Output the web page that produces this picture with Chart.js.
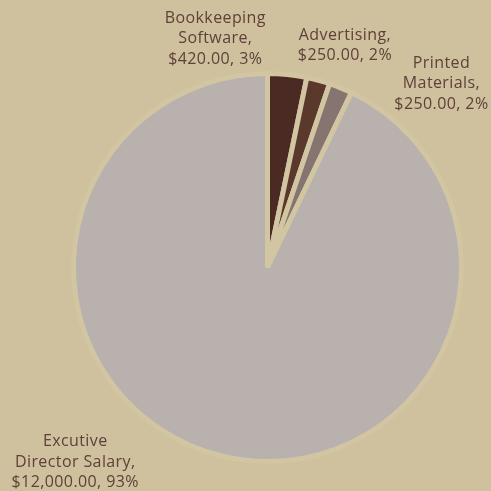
<!DOCTYPE html>
<html>
<head>
<meta charset="utf-8">
<script src="https://cdn.jsdelivr.net/npm/chart.js@4/dist/chart.umd.min.js"></script>
<style>
  html, body { margin: 0; padding: 0; background: #cfc09e; }
  #wrap { width: 491px; height: 491px; position: relative; }
</style>
</head>
<body>
<div id="wrap"><canvas id="c" width="491" height="491"></canvas></div>
<script>
const categories = ["Bookkeeping Software", "Advertising", "Printed Materials", "Excutive Director Salary"];
const labelLines = [
  ["Bookkeeping", "Software,"],
  ["Advertising,"],
  ["Printed", "Materials,"],
  ["Excutive", "Director Salary,"]
];
const amounts = [420, 250, 250, 12000];
const sliceColors = ["#4a2a22", "#5a382c", "#857470", "#b9b1ad"];

const total = amounts.reduce((a, b) => a + b, 0);
const fmtMoney = v => "$" + v.toLocaleString("en-US", {minimumFractionDigits: 2, maximumFractionDigits: 2});

// label placement relative to each slice's outer anchor point
const labelShift = [[-73, -26], [24, -25], [97, 5], [-147, -4]];

const outsideLabels = {
  id: "outsideLabels",
  afterDatasetsDraw(chart) {
    const ctx = chart.ctx;
    const meta = chart.getDatasetMeta(0);
    ctx.save();
    ctx.font = "16px 'Open Sans'";
    if ("letterSpacing" in ctx) ctx.letterSpacing = "0.4px";
    ctx.fillStyle = "#5e4139";
    ctx.textAlign = "center";
    ctx.textBaseline = "middle";
    const lh = 20.5;
    meta.data.forEach((arc, i) => {
      const p = arc.getProps(["x", "y", "startAngle", "endAngle", "outerRadius"], true);
      const mid = (p.startAngle + p.endAngle) / 2;
      const r = p.outerRadius + 10;
      const ax = p.x + Math.cos(mid) * r + labelShift[i][0];
      const ay = p.y + Math.sin(mid) * r + labelShift[i][1];
      const pct = Math.round(amounts[i] / total * 100);
      const lines = labelLines[i].concat([fmtMoney(amounts[i]) + ", " + pct + "%"]);
      const y0 = ay - (lines.length - 1) * lh / 2;
      lines.forEach((t, k) => ctx.fillText(t, ax, y0 + k * lh));
    });
    ctx.restore();
  }
};

new Chart(document.getElementById("c"), {
  type: "pie",
  data: {
    labels: categories,
    datasets: [{
      data: amounts,
      backgroundColor: sliceColors,
      borderColor: "#d2c5a2",
      borderWidth: 5
    }]
  },
  options: {
    responsive: false,
    animation: false,
    layout: { padding: { left: 71, top: 71, right: 27, bottom: 27 } },
    plugins: { legend: { display: false }, tooltip: { enabled: false } }
  },
  plugins: [outsideLabels]
});
</script>
</body>
</html>
